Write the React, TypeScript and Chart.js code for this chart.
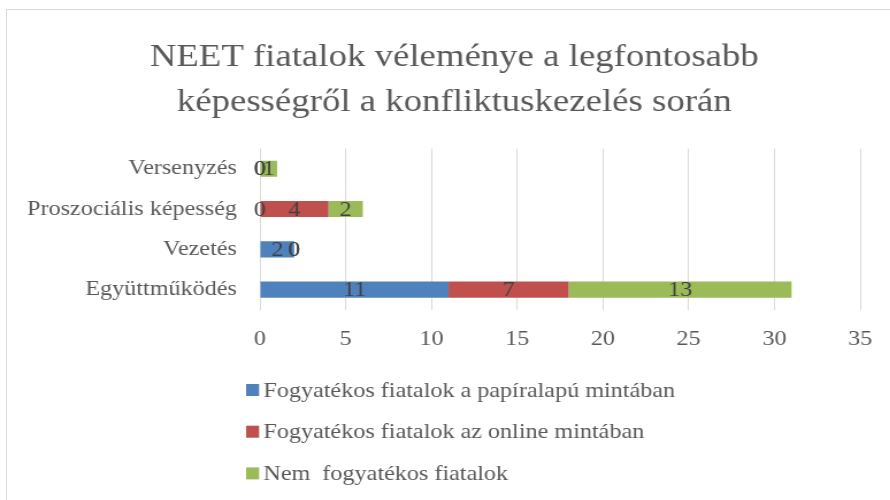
import React, { useEffect, useRef } from 'react';
import { Chart, registerables } from 'chart.js';

Chart.register(...registerables);

const categories = ['Versenyzés', 'Proszociális képesség', 'Vezetés', 'Együttműködés'];
const seriesNames = [
  'Fogyatékos fiatalok a papíralapú mintában',
  'Fogyatékos fiatalok az online mintában',
  'Nem  fogyatékos fiatalok',
];
const paperValues = [0, 0, 2, 11];
const onlineValues = [0, 4, 0, 7];
const nonDisabledValues = [1, 2, 0, 13];
const xMin = 0;
const xMax = 35;
const xStep = 5;
const seriesColors = ['#4F81BD', '#C0504D', '#9BBB59'];
const titleLines = ['NEET fiatalok véleménye a legfontosabb', 'képességről a konfliktuskezelés során'];

const FONT = "'Liberation Serif', 'Times New Roman', serif";
const STRETCH = 1.15;
const LOGICAL_W = 800;
const H = 500;

const valueLabelPlugin = {
  id: 'valueLabels',
  afterDatasetsDraw(chart: any) {
    const ctx = chart.ctx;
    ctx.save();
    ctx.font = `21px ${FONT}`;
    ctx.fillStyle = '#404040';
    ctx.textAlign = 'center';
    ctx.textBaseline = 'middle';
    chart.data.datasets.forEach((ds: any, i: number) => {
      const meta = chart.getDatasetMeta(i);
      meta.data.forEach((el: any, j: number) => {
        const p = el.getCenterPoint();
        ctx.fillText(String(ds.data[j]), p.x, p.y + 1);
      });
    });
    ctx.restore();
  },
};

const verticalLegendPlugin = {
  id: 'verticalLegend',
  afterDraw(chart: any) {
    const ctx = chart.ctx;
    const xs = chart.scales.x;
    ctx.save();
    ctx.font = `21px ${FONT}`;
    ctx.textBaseline = 'middle';
    ctx.textAlign = 'left';
    chart.data.datasets.forEach((ds: any, i: number) => {
      const cy = xs.bottom + 21 + i * 41.7;
      ctx.fillStyle = ds.backgroundColor;
      ctx.fillRect(214, cy - 6, 11.3, 12);
      ctx.fillStyle = '#595959';
      ctx.fillText(ds.label, 229, cy + 1);
    });
    ctx.restore();
  },
};

export default function App() {
  const ref = useRef<HTMLCanvasElement>(null);

  useEffect(() => {
    const canvas = ref.current;
    if (!canvas) return;
    const seriesValues = [paperValues, onlineValues, nonDisabledValues];
    const chart = new Chart(canvas, {
      type: 'bar',
      data: {
        labels: categories,
        datasets: seriesNames.map((name, i) => ({
          label: name,
          data: seriesValues[i],
          backgroundColor: seriesColors[i],
          borderWidth: 0,
          barPercentage: 0.5,
          categoryPercentage: 0.8,
        })),
      },
      options: {
        indexAxis: 'y',
        responsive: false,
        animation: false,
        layout: { padding: { top: 0, left: 0, right: 10, bottom: 131 } },
        plugins: {
          legend: { display: false },
          tooltip: { enabled: false },
          title: {
            display: true,
            text: titleLines,
            color: '#595959',
            font: { family: FONT, size: 32, weight: 'normal', lineHeight: 1.4 },
            padding: { top: 35, bottom: 24 },
          },
        },
        scales: {
          x: {
            stacked: true,
            min: xMin,
            max: xMax,
            ticks: {
              stepSize: xStep,
              color: '#595959',
              font: { family: FONT, size: 21 },
              padding: 17,
            },
            grid: { color: '#d9d9d9', lineWidth: 1, drawTicks: false },
            border: { display: false },
          },
          y: {
            stacked: true,
            ticks: {
              color: '#595959',
              font: { family: FONT, size: 21 },
              padding: 20,
            },
            grid: { display: false, drawTicks: false },
            border: { display: false },
            afterFit: (scale: any) => {
              scale.width = 226;
            },
          },
          yRightSpace: {
            type: 'linear',
            position: 'right',
            display: true,
            ticks: { display: false },
            grid: { display: false, drawTicks: false },
            border: { display: false },
            afterFit: (scale: any) => {
              scale.width = 42;
            },
          },
        },
      },
      plugins: [valueLabelPlugin, verticalLegendPlugin],
    } as any);
    return () => chart.destroy();
  }, []);

  return (
    <div
      style={{
        position: 'absolute',
        left: 0,
        top: 0,
        width: 890,
        height: 500,
        overflow: 'hidden',
        background: '#ffffff',
      }}
    >
      <canvas
        ref={ref}
        width={LOGICAL_W}
        height={H}
        style={{
          position: 'absolute',
          left: 0,
          top: 0,
          width: `${LOGICAL_W * STRETCH}px`,
          height: `${H}px`,
        }}
      />
      <div
        style={{
          position: 'absolute',
          left: 6,
          top: 9,
          width: 900,
          height: 600,
          border: '1px solid #d9d9d9',
          boxSizing: 'border-box',
          pointerEvents: 'none',
        }}
      />
    </div>
  );
}
